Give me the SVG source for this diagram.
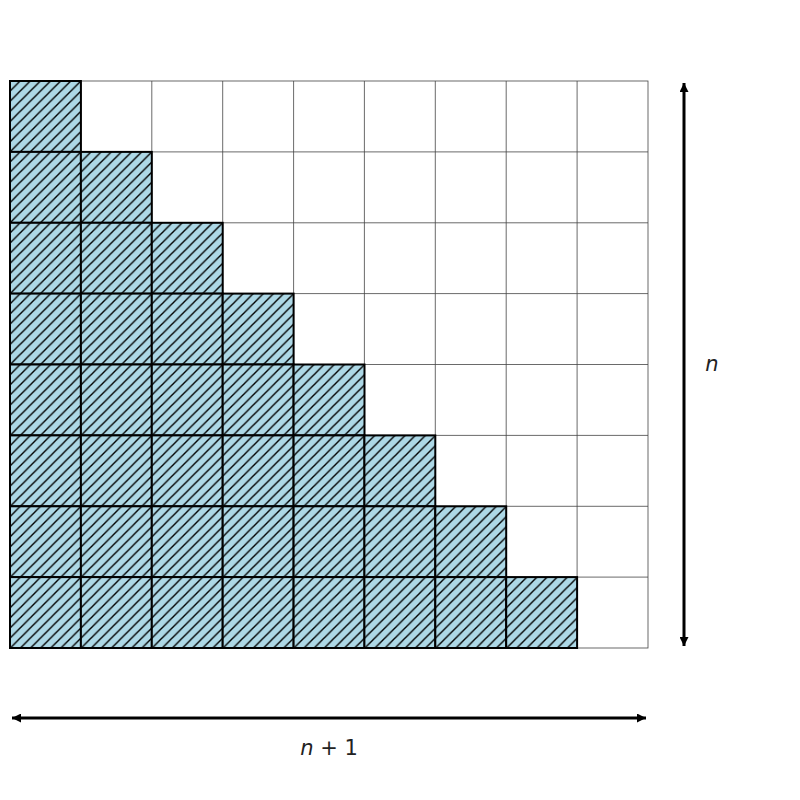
<svg xmlns="http://www.w3.org/2000/svg" width="800" height="800" viewBox="0 0 800 800">
<style>
.grid{fill:none;stroke:#444;stroke-width:0.8}
.cell{fill:url(#hatch);stroke:#000;stroke-width:2}
.arrow{stroke:#000;stroke-width:3;fill:none}
.lbl{font-family:"DejaVu Sans",sans-serif;font-size:21px;fill:#222}
</style>
<defs>
<pattern id="hatch" patternUnits="userSpaceOnUse" x="10" y="81" width="10.13" height="10.13">
<rect width="10.13" height="10.13" fill="#add8e6"/>
<path d="M-1,11.13 L11.13,-1 M-1,1 L1,-1 M9.13,11.13 L11.13,9.13" stroke="#000" stroke-width="1.4"/>
</pattern>
<marker id="ah" viewBox="0 0 10 10" refX="10" refY="5" markerWidth="3.2" markerHeight="3" orient="auto-start-reverse" markerUnits="strokeWidth">
<path d="M0,0 L10,5 L0,10 Z" fill="#000"/>
</marker>
</defs>
<g id="grid">
<rect class="grid" x="10" y="81" width="638" height="567"/>
<path class="grid" d="M80.9,81V648M151.8,81V648M222.7,81V648M293.6,81V648M364.4,81V648M435.3,81V648M506.2,81V648M577.1,81V648M10,151.9H648M10,222.8H648M10,293.6H648M10,364.5H648M10,435.4H648M10,506.3H648M10,577.1H648"/>
</g>
<g id="cells">
<rect class="cell" x="10" y="81" width="70.9" height="70.9"/>
<rect class="cell" x="10" y="151.9" width="70.9" height="70.9"/><rect class="cell" x="80.9" y="151.9" width="70.9" height="70.9"/>
<rect class="cell" x="10" y="222.8" width="70.9" height="70.9"/><rect class="cell" x="80.9" y="222.8" width="70.9" height="70.9"/><rect class="cell" x="151.8" y="222.8" width="70.9" height="70.9"/>
<rect class="cell" x="10" y="293.6" width="70.9" height="70.9"/><rect class="cell" x="80.9" y="293.6" width="70.9" height="70.9"/><rect class="cell" x="151.8" y="293.6" width="70.9" height="70.9"/><rect class="cell" x="222.7" y="293.6" width="70.9" height="70.9"/>
<rect class="cell" x="10" y="364.5" width="70.9" height="70.9"/><rect class="cell" x="80.9" y="364.5" width="70.9" height="70.9"/><rect class="cell" x="151.8" y="364.5" width="70.9" height="70.9"/><rect class="cell" x="222.7" y="364.5" width="70.9" height="70.9"/><rect class="cell" x="293.6" y="364.5" width="70.9" height="70.9"/>
<rect class="cell" x="10" y="435.4" width="70.9" height="70.9"/><rect class="cell" x="80.9" y="435.4" width="70.9" height="70.9"/><rect class="cell" x="151.8" y="435.4" width="70.9" height="70.9"/><rect class="cell" x="222.7" y="435.4" width="70.9" height="70.9"/><rect class="cell" x="293.6" y="435.4" width="70.9" height="70.9"/><rect class="cell" x="364.4" y="435.4" width="70.9" height="70.9"/>
<rect class="cell" x="10" y="506.3" width="70.9" height="70.9"/><rect class="cell" x="80.9" y="506.3" width="70.9" height="70.9"/><rect class="cell" x="151.8" y="506.3" width="70.9" height="70.9"/><rect class="cell" x="222.7" y="506.3" width="70.9" height="70.9"/><rect class="cell" x="293.6" y="506.3" width="70.9" height="70.9"/><rect class="cell" x="364.4" y="506.3" width="70.9" height="70.9"/><rect class="cell" x="435.3" y="506.3" width="70.9" height="70.9"/>
<rect class="cell" x="10" y="577.1" width="70.9" height="70.9"/><rect class="cell" x="80.9" y="577.1" width="70.9" height="70.9"/><rect class="cell" x="151.8" y="577.1" width="70.9" height="70.9"/><rect class="cell" x="222.7" y="577.1" width="70.9" height="70.9"/><rect class="cell" x="293.6" y="577.1" width="70.9" height="70.9"/><rect class="cell" x="364.4" y="577.1" width="70.9" height="70.9"/><rect class="cell" x="435.3" y="577.1" width="70.9" height="70.9"/><rect class="cell" x="506.2" y="577.1" width="70.9" height="70.9"/>
</g>
<g id="connectors">
<line class="arrow" x1="684" y1="83" x2="684" y2="646" marker-start="url(#ah)" marker-end="url(#ah)"/>
<line class="arrow" x1="12" y1="718" x2="646" y2="718" marker-start="url(#ah)" marker-end="url(#ah)"/>
</g>
<g id="labels">
<text class="lbl" x="712" y="371" text-anchor="middle"><tspan font-style="italic">n</tspan></text>
<text class="lbl" x="329" y="755" text-anchor="middle"><tspan font-style="italic">n</tspan> + 1</text>
</g>
</svg>
